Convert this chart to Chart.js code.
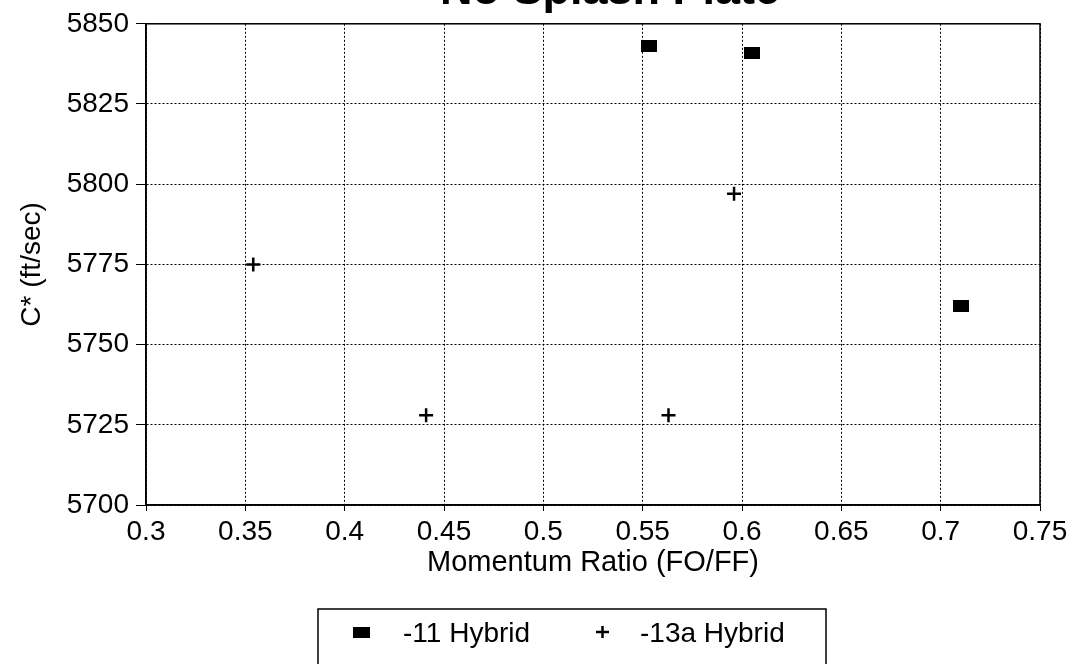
<!DOCTYPE html>
<html>
<head>
<meta charset="utf-8">
<title>No Splash Plate</title>
<script src="https://cdn.jsdelivr.net/npm/chart.js@4/dist/chart.umd.min.js"></script>
<style>
    body { margin: 0; background: #fff; overflow: hidden; }
    canvas { display: block; }
</style>
</head>
<body>
<canvas id="cstarChart" width="1077" height="664"></canvas>
<script>
/*////////////////////////////// data //////////////////////////////////*/
const chartTitle = "No Splash Plate";
const xTitle = "Momentum Ratio (FO/FF)";
const yTitle = "C* (ft/sec)";

const hybrid11Label = "-11 Hybrid";
const hybrid11X = [0.553, 0.605, 0.710];
const hybrid11Y = [5843, 5841, 5762];

const hybrid13aLabel = "-13a Hybrid";
const hybrid13aX = [0.354, 0.441, 0.563, 0.596];
const hybrid13aY = [5775, 5728, 5728, 5797];

const xTicks = [0.3, 0.35, 0.4, 0.45, 0.5, 0.55, 0.6, 0.65, 0.7, 0.75];
const yTicks = [5700, 5725, 5750, 5775, 5800, 5825, 5850];

/*///////////////////////////////////////////////////////////////////*/

const FONT = "'Liberation Sans', Arial, Helvetica, sans-serif";

// the square marker in the original is a bit wider than tall
const squareMark = document.createElement('canvas');
squareMark.width = 16;
squareMark.height = 12;
(function() {
    const c = squareMark.getContext('2d');
    c.fillStyle = '#000';
    c.fillRect(0, 0, 16, 12);
})();

function toPoints(xs, ys) {
    return xs.map((x, i) => ({ x: x, y: ys[i] }));
}

// title (cut off at the top), solid frame and boxed legend
const framePlugin = {
    id: 'frame',
    afterDraw(chart) {
        const ctx = chart.ctx;
        const area = chart.chartArea;
        ctx.save();

        ctx.strokeStyle = '#000';
        ctx.lineWidth = 1.5;
        ctx.strokeRect(area.left, area.top, area.right - area.left, area.bottom - area.top);

        ctx.fillStyle = '#000';
        ctx.font = "bold 45px " + FONT;
        ctx.textAlign = 'center';
        ctx.textBaseline = 'alphabetic';
        ctx.fillText(chartTitle, 610, 4);

        // legend box
        ctx.lineWidth = 1.5;
        ctx.strokeRect(318, 609, 508, 80);
        const sets = chart.data.datasets;
        ctx.font = "28px " + FONT;
        ctx.textAlign = 'left';
        ctx.drawImage(squareMark, 353, 627, 17, 11);
        ctx.fillText(sets[0].label, 403, 642);
        ctx.lineWidth = 2.5;
        ctx.beginPath();
        ctx.moveTo(596, 632); ctx.lineTo(609, 632);
        ctx.moveTo(602.5, 626); ctx.lineTo(602.5, 638);
        ctx.stroke();
        ctx.fillText(sets[1].label, 640, 642);
        ctx.restore();
    }
};

const ctx = document.getElementById('cstarChart').getContext('2d');
new Chart(ctx, {
    type: 'scatter',
    data: {
        datasets: [{
            label: hybrid11Label,
            data: toPoints(hybrid11X, hybrid11Y),
            pointStyle: squareMark,
            backgroundColor: '#000',
            borderColor: '#000'
        }, {
            label: hybrid13aLabel,
            data: toPoints(hybrid13aX, hybrid13aY),
            pointStyle: 'cross',
            pointRadius: 7,
            borderWidth: 2.5,
            borderColor: '#000',
            backgroundColor: '#000'
        }]
    },
    options: {
        responsive: false,
        animation: false,
        layout: { padding: { top: 23, right: 37, left: 0, bottom: 0 } },
        plugins: {
            legend: { display: false },
            title: { display: false },
            tooltip: { enabled: false }
        },
        scales: {
            x: {
                type: 'linear',
                min: 0.3,
                max: 0.75,
                afterBuildTicks: scale => { scale.ticks = xTicks.map(v => ({ value: v })); },
                afterFit: scale => { scale.height = 159; },
                ticks: {
                    color: '#000',
                    font: { family: FONT, size: 28 },
                    padding: 4,
                    maxRotation: 0,
                    autoSkip: false,
                    callback: v => String(v)
                },
                grid: {
                    color: '#000',
                    lineWidth: 1,
                    tickLength: 6,
                    tickColor: '#000',
                    tickBorderDash: []
                },
                border: { display: true, color: '#000', width: 1.5, dash: [2, 2] },
                title: {
                    display: true,
                    text: xTitle,
                    color: '#000',
                    font: { family: FONT, size: 29 },
                    padding: { top: 0, bottom: 84 }
                }
            },
            y: {
                type: 'linear',
                min: 5700,
                max: 5850,
                afterBuildTicks: scale => { scale.ticks = yTicks.map(v => ({ value: v })); },
                afterFit: scale => { scale.width = 146; },
                ticks: {
                    color: '#000',
                    font: { family: FONT, size: 28 },
                    padding: 7,
                    autoSkip: false,
                    callback: v => String(v)
                },
                grid: {
                    color: '#000',
                    lineWidth: 1,
                    tickLength: 10,
                    tickColor: '#000',
                    tickBorderDash: []
                },
                border: { display: true, color: '#000', width: 1.5, dash: [2, 2] },
                title: {
                    display: true,
                    text: yTitle,
                    color: '#000',
                    font: { family: FONT, size: 28 },
                    padding: { top: 15, bottom: 0 }
                }
            }
        }
    },
    plugins: [framePlugin]
});
</script>
</body>
</html>
